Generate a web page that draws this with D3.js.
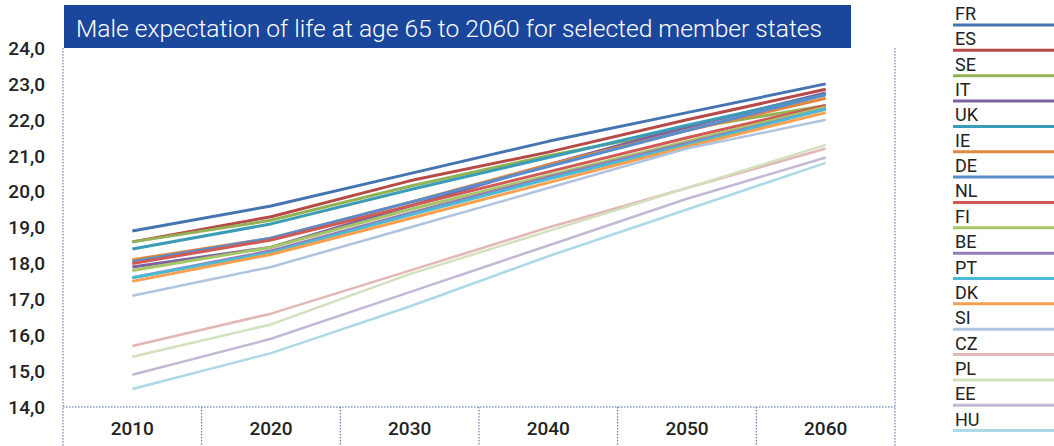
<!DOCTYPE html>
<html>
<head>
<meta charset="utf-8">
<script src="https://cdn.jsdelivr.net/npm/d3@7"></script>
<style>
  body { margin: 0; background: #fff; }
  svg { display: block; font-family: Roboto, "DejaVu Sans", sans-serif; }
</style>
</head>
<body>
<div id="chart"></div>
<script>
// chart size
var width = 1054,
    height = 446;

// years on the x axis
var years = ["2010", "2020", "2030", "2040", "2050", "2060"];

// y axis ticks
var yTicks = [14, 15, 16, 17, 18, 19, 20, 21, 22, 23, 24];

// member states, in legend order
var states = ["FR", "ES", "SE", "IT", "UK", "IE", "DE", "NL", "FI", "BE", "PT", "DK", "SI", "CZ", "PL", "EE", "HU"];

// male life expectancy at 65 (2010..2060)
var FR = [18.9, 19.6, 20.5, 21.4, 22.2, 23.0];
var ES = [18.6, 19.3, 20.3, 21.1, 22.0, 22.85];
var SE = [18.6, 19.2, 20.15, 21.0, 21.75, 22.4];
var IT = [17.9, 18.45, 19.6, 20.75, 21.8, 22.75];
var UK = [18.4, 19.1, 20.05, 20.95, 21.85, 22.7];
var IE = [18.1, 18.7, 19.7, 20.75, 21.7, 22.6];
var DE = [18.05, 18.7, 19.7, 20.7, 21.7, 22.7];
var NL = [18.0, 18.65, 19.6, 20.55, 21.5, 22.4];
var FI = [17.8, 18.45, 19.5, 20.45, 21.4, 22.35];
var BE = [17.6, 18.35, 19.4, 20.4, 21.35, 22.3];
var PT = [17.6, 18.3, 19.35, 20.35, 21.3, 22.3];
var DK = [17.5, 18.25, 19.25, 20.25, 21.25, 22.2];
var SI = [17.1, 17.9, 19.0, 20.1, 21.2, 22.0];
var CZ = [15.7, 16.6, 17.8, 19.0, 20.1, 21.2];
var PL = [15.4, 16.3, 17.7, 18.9, 20.1, 21.3];
var EE = [14.9, 15.9, 17.2, 18.5, 19.8, 20.95];
var HU = [14.5, 15.5, 16.8, 18.2, 19.5, 20.8];

var values = {FR: FR, ES: ES, SE: SE, IT: IT, UK: UK, IE: IE, DE: DE, NL: NL, FI: FI,
              BE: BE, PT: PT, DK: DK, SI: SI, CZ: CZ, PL: PL, EE: EE, HU: HU};

var colors = ["#4674b0", "#b64a47", "#92b255", "#7c62a0", "#3a9cb7", "#e0883f",
              "#5a8dcb", "#d05a55", "#a6c566", "#957cb9", "#4bbad6", "#f7a050",
              "#b0c3df", "#e3b7b6", "#d1e0bd", "#c4b8d5", "#acd9e6"];

var plot = {left: 63, right: 895, top: 48, bottom: 407};
var dotColor = "#4a66b0";

var x = d3.scaleBand().domain(years).range([plot.left, plot.right]),
    y = d3.scaleLinear().domain([14, 24]).range([plot.bottom, plot.top]),
    z = d3.scaleOrdinal().domain(states).range(colors);

var series = states.map(function(id) {
    return {id: id, values: years.map(function(yr, i) { return {year: yr, v: values[id][i]}; })};
});

var line = d3.line()
    .x(function(d) { return x(d.year) + x.bandwidth() / 2; })
    .y(function(d) { return y(d.v); });

var svg = d3.select("#chart").append("svg")
    .attr("width", width)
    .attr("height", height);

// title bar
svg.append("rect")
    .attr("x", 64).attr("y", 5)
    .attr("width", 787).attr("height", 43)
    .attr("fill", "#1a479c");
svg.append("text")
    .attr("x", 76).attr("y", 37)
    .attr("fill", "#fff")
    .style("font-size", "24.6px")
    .style("font-weight", 300)
    .text("Male expectation of life at age 65 to 2060 for selected member states");

// dotted frame
var frame = svg.append("g")
    .attr("stroke", dotColor)
    .attr("stroke-width", 1)
    .attr("stroke-dasharray", "1.5,1.5");
frame.append("line")
    .attr("x1", plot.left).attr("x2", plot.left)
    .attr("y1", plot.top).attr("y2", height);
frame.append("line")
    .attr("x1", plot.right).attr("x2", plot.right)
    .attr("y1", plot.top).attr("y2", height);
frame.append("line")
    .attr("x1", plot.left).attr("x2", plot.right)
    .attr("y1", plot.bottom).attr("y2", plot.bottom);
frame.selectAll(".sep")
    .data(years.slice(1))
    .enter().append("line")
    .attr("class", "sep")
    .attr("x1", function(d) { return x(d); })
    .attr("x2", function(d) { return x(d); })
    .attr("y1", plot.bottom).attr("y2", height);

// y axis labels
svg.selectAll(".ylab")
    .data(yTicks)
    .enter().append("text")
    .attr("class", "ylab")
    .attr("x", 45)
    .attr("y", function(d) { return y(d); })
    .attr("dy", "0.36em")
    .attr("text-anchor", "end")
    .attr("fill", "#222")
    .style("font-size", "19px")
    .style("font-weight", 500)
    .text(function(d) { return d3.format(".1f")(d).replace(".", ","); });

// x axis labels
svg.selectAll(".xlab")
    .data(years)
    .enter().append("text")
    .attr("class", "xlab")
    .attr("x", function(d) { return x(d) + x.bandwidth() / 2; })
    .attr("y", 435)
    .attr("text-anchor", "middle")
    .attr("fill", "#222")
    .style("font-size", "19px")
    .style("font-weight", 500)
    .text(function(d) { return d; });

// lines
svg.append("g").selectAll("path")
    .data(series)
    .enter().append("path")
    .attr("d", function(d) { return line(d.values); })
    .attr("fill", "none")
    .attr("stroke", function(d) { return z(d.id); })
    .attr("stroke-width", function(d, i) { return i < 12 ? 3 : 2.5; })
    .attr("stroke-linejoin", "round");

// legend
var step = 25.35;
var legend = svg.append("g").selectAll("g")
    .data(states)
    .enter().append("g")
    .attr("transform", function(d, i) { return "translate(0," + (25 + i * step) + ")"; });
legend.append("line")
    .attr("x1", 953).attr("x2", width)
    .attr("y1", 0).attr("y2", 0)
    .attr("stroke", function(d) { return z(d); })
    .attr("stroke-width", 3);
legend.append("text")
    .attr("x", 955).attr("y", -5)
    .attr("fill", "#222")
    .style("font-size", "18px")
    .text(function(d) { return d; });
</script>
</body>
</html>
